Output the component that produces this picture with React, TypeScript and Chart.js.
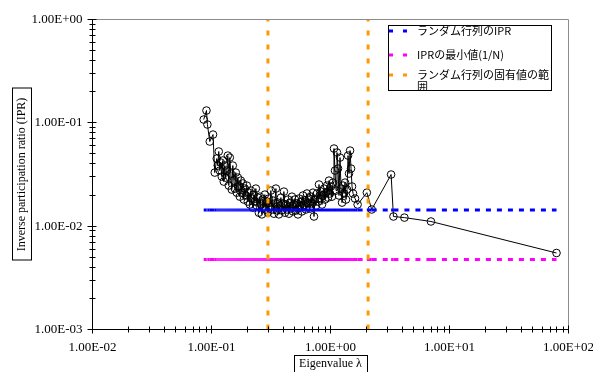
import React, { useEffect, useRef } from 'react';
import { Chart, registerables } from 'chart.js';

Chart.register(...registerables);

// ---- data ----
const eigenvalues = [
  0.0860, 0.0907, 0.0924, 0.0967, 0.1030, 0.1065, 0.1107, 0.1129, 0.1151, 0.1174,
  0.1196, 0.1220, 0.1244, 0.1268, 0.1293, 0.1318, 0.1344, 0.1371, 0.1397, 0.1425,
  0.1453, 0.1481, 0.1510, 0.1540, 0.1570, 0.1601, 0.1632, 0.1664, 0.1697, 0.1730,
  0.1764, 0.1798, 0.1834, 0.1869, 0.1906, 0.1943, 0.1981, 0.2019, 0.2059, 0.2099,
  0.2141, 0.2183, 0.2225, 0.2269, 0.2313, 0.2359, 0.2405, 0.2452, 0.2500, 0.2549,
  0.2599, 0.2650, 0.2702, 0.2755, 0.2808, 0.2864, 0.2920, 0.2977, 0.3035, 0.3095,
  0.3155, 0.3217, 0.3280, 0.3344, 0.3410, 0.3477, 0.3545, 0.3614, 0.3685, 0.3757,
  0.3831, 0.3906, 0.3982, 0.4060, 0.4140, 0.4221, 0.4304, 0.4388, 0.4474, 0.4561,
  0.4650, 0.4741, 0.4834, 0.4929, 0.5025, 0.5123, 0.5224, 0.5326, 0.5430, 0.5537,
  0.5645, 0.5756, 0.5869, 0.5984, 0.6101, 0.6220, 0.6342, 0.6467, 0.6593, 0.6722,
  0.6854, 0.6988, 0.7125, 0.7265, 0.7407, 0.7552, 0.7700, 0.7851, 0.8005, 0.8161,
  0.8321, 0.8484, 0.8650, 0.8820, 0.8990, 0.9166, 0.9345, 0.9528, 0.9715, 0.9904,
  1.010, 1.029, 1.050, 1.070, 1.091, 1.113, 1.134, 1.157, 1.179, 1.202,
  1.226, 1.250, 1.274, 1.299, 1.325, 1.350, 1.377, 1.404, 1.431, 1.460,
  1.488, 1.517, 1.547, 1.608, 1.69, 2.02, 2.22, 3.23, 3.38, 4.18,
  6.98, 79.3,
];

const iprValues = [
  0.1076, 0.1315, 0.0963, 0.0659, 0.0770, 0.0330, 0.0451, 0.0386, 0.0528, 0.0345,
  0.0413, 0.0302, 0.0432, 0.0270, 0.0386, 0.0295, 0.0345, 0.0482, 0.0247, 0.0461,
  0.0323, 0.0226, 0.0386, 0.0276, 0.0231, 0.0330, 0.0211, 0.0295, 0.0242, 0.0193,
  0.0276, 0.0211, 0.0259, 0.0181, 0.0231, 0.0198, 0.0247, 0.0173, 0.0211, 0.0162,
  0.0221, 0.0185, 0.0151, 0.0202, 0.0173, 0.0231, 0.0158, 0.0189, 0.0135, 0.0193,
  0.0162, 0.0130, 0.0181, 0.0151, 0.0202, 0.0145, 0.0173, 0.0135, 0.0185, 0.0155,
  0.0221, 0.0145, 0.0177, 0.0132, 0.0166, 0.0231, 0.0142, 0.0169, 0.0130, 0.0158,
  0.0189, 0.0142, 0.0166, 0.0216, 0.0135, 0.0162, 0.0145, 0.0181, 0.0132, 0.0169,
  0.0148, 0.0193, 0.0139, 0.0162, 0.0181, 0.0142, 0.0166, 0.0130, 0.0185, 0.0155,
  0.0173, 0.0139, 0.0198, 0.0158, 0.0177, 0.0145, 0.0207, 0.0166, 0.0185, 0.0148,
  0.0193, 0.0166, 0.0211, 0.0124, 0.0181, 0.0158, 0.0207, 0.0173, 0.0253, 0.0185,
  0.0216, 0.0162, 0.0198, 0.0231, 0.0181, 0.0211, 0.0247, 0.0189, 0.0276, 0.0207,
  0.0242, 0.0193, 0.0264, 0.0564, 0.0345, 0.0221, 0.0516, 0.0361, 0.0198, 0.0461,
  0.0231, 0.0169, 0.0247, 0.0207, 0.0264, 0.0181, 0.0226, 0.0482, 0.0323, 0.0539,
  0.0361, 0.0242, 0.0207, 0.0185, 0.0162, 0.0211, 0.0145, 0.0316, 0.0124, 0.0121,
  0.0111, 0.0055,
];

const randomMatrixIPR = 0.0143; // ランダム行列のIPR
const minimumIPR = 0.00476; // IPRの最小値(1/N)
const spectrumEdges = [0.298, 2.07]; // ランダム行列の固有値の範囲

const xTickLabels = ['1.00E-02', '1.00E-01', '1.00E+00', '1.00E+01', '1.00E+02'];
const yTickLabels = ['1.00E-03', '1.00E-02', '1.00E-01', '1.00E+00'];
const legendLabels = ['ランダム行列のIPR', 'IPRの最小値(1/N)', 'ランダム行列の固有値の範囲'];
const xTitle = 'Eigenvalue λ';
const yTitle = 'Inverse participation ratio (IPR)';

const SERIF = '"Liberation Serif", "Times New Roman", serif';
const JP = '"Noto Sans CJK JP", "Noto Sans", sans-serif';
const BLUE = '#0000ff';
const MAGENTA = '#ff00ff';
const ORANGE = '#ff9900';
const legendColors = [BLUE, MAGENTA, ORANGE];

function decadeTicks(minExp: number, maxExp: number) {
  const t: any[] = [];
  for (let e = minExp; e < maxExp; e++) {
    for (let m = 1; m <= 9; m++) t.push({ value: m * Math.pow(10, e), major: m === 1 });
  }
  t.push({ value: Math.pow(10, maxExp), major: true });
  return t;
}

function labelFor(labels: string[], minExp: number) {
  return (value: number, index: number, ticks: any[]) => {
    const t = ticks[index];
    if (!t || !t.major) return '';
    const e = Math.round(Math.log10(value));
    return labels[e - minExp] ?? '';
  };
}

const decorPlugin = {
  id: 'decor',
  afterDraw(chart: any) {
    const { ctx, chartArea: a } = chart;
    const xs = chart.scales.x;
    const ys = chart.scales.y;
    ctx.save();
    ctx.lineWidth = 1;
    // plot-area border (top and right) in gray
    ctx.strokeStyle = '#8c8c8c';
    ctx.beginPath();
    ctx.moveTo(a.left, a.top);
    ctx.lineTo(a.right, a.top);
    ctx.lineTo(a.right, a.bottom);
    ctx.stroke();
    // axes in black
    ctx.strokeStyle = '#000';
    ctx.beginPath();
    ctx.moveTo(a.left, a.top - 0.5);
    ctx.lineTo(a.left, a.bottom);
    ctx.lineTo(a.right + 0.5, a.bottom);
    for (const t of xs.ticks) {
      const p = Math.floor(xs.getPixelForValue(t.value)) + 0.5;
      const len = t.major ? 4 : 3;
      ctx.moveTo(p, a.bottom - len);
      ctx.lineTo(p, a.bottom + len);
    }
    for (const t of ys.ticks) {
      const p = Math.floor(ys.getPixelForValue(t.value)) + 0.5;
      const l1 = t.major ? 5 : 3;
      const l2 = t.major ? 4 : 3;
      ctx.moveTo(a.left - l1, p);
      ctx.lineTo(a.left + l2, p);
    }
    ctx.stroke();

    // axis titles with boxes
    ctx.fillStyle = '#000';
    ctx.font = `12px ${SERIF}`;
    ctx.textAlign = 'center';
    ctx.textBaseline = 'middle';
    const cx = (a.left + a.right) / 2;
    const xw = ctx.measureText(xTitle).width;
    ctx.fillText(xTitle, cx, 364);
    ctx.strokeRect(Math.round(cx - xw / 2 - 5) + 0.5, 355.5, Math.round(xw + 10), 20);

    const cy = (a.top + a.bottom) / 2;
    ctx.save();
    ctx.translate(22, cy);
    ctx.rotate(-Math.PI / 2);
    const yw = ctx.measureText(yTitle).width;
    ctx.fillText(yTitle, 0, 0);
    ctx.strokeRect(Math.round(-yw / 2 - 9) + 0.5, -9.5, Math.round(yw + 18), 19);
    ctx.restore();

    // legend
    const L = { x: 388.5, y: 25.5, w: 163, h: 65 };
    ctx.fillStyle = '#fff';
    ctx.fillRect(L.x, L.y, L.w, L.h);
    ctx.save();
    ctx.beginPath();
    ctx.rect(L.x, L.y, L.w, L.h);
    ctx.clip();
    ctx.font = `11px ${JP}`;
    ctx.textAlign = 'left';
    ctx.textBaseline = 'middle';
    const rows = [31, 55, 75];
    const textX = 417;
    const maxW = 134;
    legendLabels.forEach((label, i) => {
      const y = rows[i];
      ctx.fillStyle = legendColors[i];
      ctx.fillRect(389, y - 1.5, 4, 3);
      ctx.fillRect(403, y - 1.5, 4, 3);
      ctx.fillStyle = '#000';
      // wrap by width
      const lines: string[] = [];
      let cur = '';
      for (const ch of Array.from(label)) {
        if (ctx.measureText(cur + ch).width > maxW && cur) {
          lines.push(cur);
          cur = ch;
        } else cur += ch;
      }
      if (cur) lines.push(cur);
      lines.forEach((ln, k) => ctx.fillText(ln, textX, y + k * 12));
    });
    ctx.restore();
    ctx.strokeStyle = '#000';
    ctx.strokeRect(L.x, L.y, L.w, L.h);
    ctx.restore();
  },
};

export default function App() {
  const ref = useRef<HTMLCanvasElement>(null);

  useEffect(() => {
    if (!ref.current) return;
    const mainPoints = eigenvalues.map((x, i) => ({ x, y: iprValues[i] }));
    const flat = (y: number) => eigenvalues.map((x) => ({ x, y }));
    const restartDash = { borderDashOffset: (c: any) => (c.p0DataIndex % 2) * 0.001 };

    const chart = new Chart(ref.current, {
      type: 'scatter',
      data: {
        datasets: [
          {
            label: legendLabels[2],
            data: [
              { x: spectrumEdges[0], y: 0.001 },
              { x: spectrumEdges[0], y: 1 },
            ],
            showLine: true,
            borderColor: ORANGE,
            borderWidth: 3,
            borderDash: [5, 9],
            pointRadius: 0,
            order: 1,
          },
          {
            label: legendLabels[2],
            data: [
              { x: spectrumEdges[1], y: 0.001 },
              { x: spectrumEdges[1], y: 1 },
            ],
            showLine: true,
            borderColor: ORANGE,
            borderWidth: 3,
            borderDash: [5, 9],
            pointRadius: 0,
            order: 1,
          },
          {
            label: legendLabels[0],
            data: flat(randomMatrixIPR),
            showLine: true,
            borderColor: BLUE,
            borderWidth: 3,
            borderDash: [5, 6],
            segment: restartDash,
            pointRadius: 0,
            order: 2,
          },
          {
            label: legendLabels[1],
            data: flat(minimumIPR),
            showLine: true,
            borderColor: MAGENTA,
            borderWidth: 3,
            borderDash: [5, 6],
            segment: restartDash,
            pointRadius: 0,
            order: 2,
          },
          {
            label: 'IPR',
            data: mainPoints,
            showLine: true,
            borderColor: '#000',
            borderWidth: 1,
            pointRadius: 3.8,
            pointBorderWidth: 1,
            pointBorderColor: '#000',
            pointBackgroundColor: 'rgba(0,0,0,0)',
            order: 3,
          },
        ],
      },
      options: {
        animation: false,
        responsive: false,
        devicePixelRatio: 1,
        layout: { padding: { top: 19.5, right: 24.5, left: 0, bottom: 0 } },
        plugins: { legend: { display: false }, tooltip: { enabled: false } },
        elements: { line: { tension: 0 } },
        scales: {
          x: {
            type: 'logarithmic',
            position: 'bottom',
            min: 0.01,
            max: 100,
            grid: { display: false, drawTicks: false },
            border: { display: false },
            afterBuildTicks: (s: any) => {
              s.ticks = decadeTicks(-2, 2);
            },
            afterFit: (s: any) => {
              s.height = 42.5;
              s.paddingLeft = 0;
              s.paddingRight = 0;
            },
            ticks: {
              autoSkip: false,
              maxRotation: 0,
              minRotation: 0,
              padding: 10,
              color: '#000',
              font: { family: SERIF, size: 13 },
              callback: labelFor(xTickLabels, -2) as any,
            },
          },
          y: {
            type: 'logarithmic',
            position: 'left',
            min: 0.001,
            max: 1,
            grid: { display: false, drawTicks: false },
            border: { display: false },
            afterBuildTicks: (s: any) => {
              s.ticks = decadeTicks(-3, 0);
            },
            afterFit: (s: any) => {
              s.width = 92.5;
              s.paddingTop = 0;
              s.paddingBottom = 0;
            },
            ticks: {
              autoSkip: false,
              padding: 10,
              color: '#000',
              font: { family: SERIF, size: 13 },
              callback: labelFor(yTickLabels, -3) as any,
            },
          },
        },
      } as any,
      plugins: [decorPlugin],
    });
    return () => chart.destroy();
  }, []);

  return (
    <div style={{ position: 'fixed', left: 0, top: 0, width: 593, height: 372, background: '#fff' }}>
      <canvas ref={ref} width={593} height={372} style={{ display: 'block', width: 593, height: 372 }} />
    </div>
  );
}
